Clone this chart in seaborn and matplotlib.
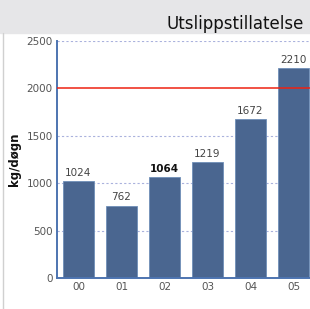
import pandas as pd
import numpy as np
import matplotlib
matplotlib.use("Agg")
import matplotlib.pyplot as plt
import seaborn as sns
from matplotlib.patches import Rectangle
from matplotlib.lines import Line2D

years = ["00", "01", "02", "03", "04", "05"]
values = [1024, 762, 1064, 1219, 1672, 2210]
limit = 2000
yticks = [0, 500, 1000, 1500, 2000, 2500]

df = pd.DataFrame({"year": years, "kg": values})

sns.set_theme(style="white")
plt.rcParams["font.family"] = ["DejaVu Sans"]

fig = plt.figure(figsize=(3.10, 3.09), dpi=100)
# grey header band and left border
fig.patches.append(Rectangle((0, 1 - 33 / 309), 1, 33 / 309, transform=fig.transFigure,
                             color="#e6e6e8", zorder=0))
fig.lines.append(Line2D([3 / 310, 3 / 310], [0, 1 - 33 / 309], transform=fig.transFigure,
                        color="#d0d0d0", lw=1))
fig.text(167 / 310, 1 - 24 / 309, "Utslippstillatelse", fontsize=12, color="#111111",
         ha="left", va="center")

ax = fig.add_axes([57 / 310, 31 / 309, 258 / 310, 237 / 309])
ax.set_facecolor("white")
for y in [500, 1000, 1500, 2500]:
    ax.axhline(y, color="#aab2dd", lw=0.8, ls=(0, (2, 2)), zorder=0)
ax.axhline(limit, color="#ee2211", lw=1.1, zorder=3)

sns.barplot(data=df, x="year", y="kg", color="#4a6690", saturation=1, width=0.72,
            edgecolor="#6f8fb8", linewidth=0.6, ax=ax, zorder=2)

for i, v in enumerate(values):
    ax.text(i, v + 35, str(v), ha="center", va="bottom", fontsize=7.5,
            color="#111111" if v == 1064 else "#444444",
            fontweight="bold" if v == 1064 else "normal")

ax.set_xlim(-0.5, 5.5)
ax.set_ylim(0, 2500)
ax.set_yticks(yticks)
ax.set_yticklabels([str(t) for t in yticks], fontsize=7.5, color="#555555")
ax.set_xticks(range(len(years)))
ax.set_xticklabels(years, fontsize=7.5, color="#555555")
ax.tick_params(axis="x", length=0, pad=3)
ax.tick_params(axis="y", length=2, width=0.8, color="#5577aa", pad=1)
ax.set_xticks(np.arange(0.5, 5.5, 1), minor=True)
ax.tick_params(axis="x", which="minor", direction="in", length=5, width=0.8, color="#5577aa")
ax.set_xlabel("")
ax.set_ylabel("kg/døgn", fontsize=8.5, fontweight="bold", color="#111111", labelpad=4)
for s in ["top", "right"]:
    ax.spines[s].set_visible(False)
for s in ["left", "bottom"]:
    ax.spines[s].set_color("#4d74b0")
    ax.spines[s].set_linewidth(1.4)

fig.savefig("out.png", dpi=100)
